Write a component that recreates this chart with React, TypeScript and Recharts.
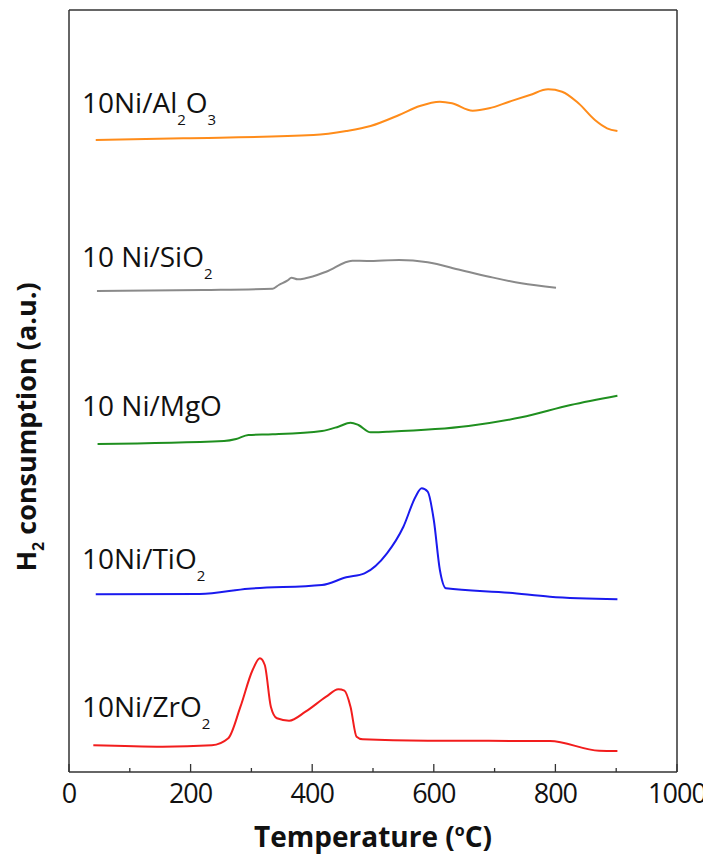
import React from "react";
import { LineChart, Line, XAxis, YAxis, Customized } from "recharts";

// Temperature (°C) and H2 consumption signal (a.u., stacked offsets) per catalyst
const alT = [44, 188, 402, 456, 496, 543, 577, 610, 630, 664, 691, 724, 758, 788, 811, 838, 865, 885, 902];
const alV = [631, 632.7, 636, 640, 645, 656, 665, 669.3, 667.7, 660.3, 662.7, 669.3, 676, 681.7, 679.3, 667.7, 651, 642.7, 640];

const siT = [46, 221, 335, 345, 359, 366, 376, 389, 423, 466, 490, 543, 590, 644, 691, 744, 801];
const siV = [480, 481, 482.3, 486, 490.3, 493.3, 491.7, 492.7, 499.3, 510.3, 510, 511, 508.7, 501, 494.3, 487.7, 483.3];

const mgT = [47, 255, 275, 295, 335, 416, 443, 463, 476, 496, 523, 657, 744, 825, 902];
const mgV = [327, 330, 332, 336, 336.7, 340, 344.3, 348.3, 346, 338.7, 339.3, 345, 353.7, 366, 375.3];

const tiT = [44, 215, 295, 416, 456, 486, 523, 550, 570, 580, 590, 600, 610, 620, 724, 791, 902];
const tiV = [176.7, 177, 182.3, 186, 193.7, 197.7, 217.7, 244.3, 274.3, 282.7, 279.3, 251, 201, 182.7, 178.3, 174.3, 171.7];

const zrT = [40, 154, 235, 262, 282, 302, 314, 322, 332, 342, 362, 389, 423, 443, 453, 463, 473, 483, 590, 791, 872, 902];
const zrV = [25.7, 24.3, 25.7, 32.7, 64.3, 101, 112.7, 106, 64.3, 52.7, 50.3, 59.3, 74.3, 81.7, 80.3, 64.3, 34.3, 31.7, 30.3, 30, 20.3, 20];

const xTicks = [0, 100, 200, 300, 400, 500, 600, 700, 800, 900, 1000];

const zip = (t: number[], v: number[]) => t.map((x, i) => ({ t: x, v: v[i] }));

const series = [
  { name: "Al2O3", data: zip(alT, alV), color: "#ff8c1a" },
  { name: "SiO2", data: zip(siT, siV), color: "#8a8a8a" },
  { name: "MgO", data: zip(mgT, mgV), color: "#1f8f1f" },
  { name: "TiO2", data: zip(tiT, tiV), color: "#1a1aee" },
  { name: "ZrO2", data: zip(zrT, zrV), color: "#f21d1d" },
];

const FONT = "'Open Sans', 'DejaVu Sans', sans-serif";
const AXIS = "#333";

const XTick = (props: any) => {
  const { x, y, payload } = props;
  const major = payload.value % 200 === 0;
  return (
    <g>
      <line x1={x} x2={x} y1={y} y2={y - (major ? 8 : 4)} stroke={AXIS} strokeWidth={1.3} />
      {major && (
        <text x={x} y={y + 31} textAnchor="middle" fontFamily={FONT} fontSize={27} letterSpacing={-1} fill="#111">
          {payload.value}
        </text>
      )}
    </g>
  );
};

const Labels = () => {
  const lab = (y: number, parts: [string, boolean][]) => (
    <text x={74} y={y} fontFamily={FONT} fontSize={28} fill="#111">
      {parts.map(([s, sub], i) =>
        sub ? (
          <tspan key={i} fontSize={15} dy={12}>{s}</tspan>
        ) : (
          <tspan key={i} dy={i > 0 && parts[i - 1][1] ? -12 : 0}>{s}</tspan>
        )
      )}
    </text>
  );
  return (
    <g>
      {lab(104.5, [["10Ni/Al", false], ["2", true], ["O", false], ["3", true]])}
      {lab(259, [["10 Ni/SiO", false], ["2", true]])}
      {lab(408, [["10 Ni/MgO", false]])}
      {lab(561, [["10Ni/TiO", false], ["2", true]])}
      {lab(709, [["10Ni/ZrO", false], ["2", true]])}
      <text x={365} y={839} textAnchor="middle" fontFamily={FONT} fontSize={28} fontWeight="bold" fill="#111">
        Temperature (<tspan fontSize={16} dy={-11}>o</tspan>
        <tspan dy={11}>C)</tspan>
      </text>
      <text
        transform="translate(28,419) rotate(-90)"
        textAnchor="middle"
        fontFamily={FONT}
        fontSize={27}
        fontWeight="bold"
        fill="#111"
      >
        H<tspan fontSize={16} dy={8}>2</tspan>
        <tspan dy={-8}> consumption (a.u.)</tspan>
      </text>
    </g>
  );
};

export default function App() {
  return (
    <div style={{ width: 703, height: 846 }}>
      <LineChart width={703} height={846} margin={{ top: 1, right: 33, bottom: 81, left: 60 }}>
        <XAxis
          type="number"
          dataKey="t"
          domain={[0, 1000]}
          ticks={xTicks}
          allowDataOverflow
          height={1}
          tickSize={0}
          tickMargin={0}
          tickLine={false}
          tick={<XTick />}
          axisLine={{ stroke: AXIS, strokeWidth: 1.5 }}
          interval={0}
        />
        <XAxis
          xAxisId="top"
          orientation="top"
          type="number"
          domain={[0, 1000]}
          height={1}
          tick={false}
          tickLine={false}
          axisLine={{ stroke: AXIS, strokeWidth: 1.5 }}
        />
        <YAxis
          type="number"
          domain={[-1, 761]}
          width={1}
          tick={false}
          tickLine={false}
          axisLine={{ stroke: AXIS, strokeWidth: 1.5 }}
        />
        <YAxis
          yAxisId="r"
          orientation="right"
          type="number"
          domain={[-1, 761]}
          width={1}
          tick={false}
          tickLine={false}
          axisLine={{ stroke: AXIS, strokeWidth: 1.5 }}
        />
        {series.map((s) => (
          <Line
            key={s.name}
            data={s.data}
            dataKey="v"
            type="monotone"
            stroke={s.color}
            strokeWidth={2}
            dot={false}
            isAnimationActive={false}
          />
        ))}
        <Customized component={Labels} />
      </LineChart>
    </div>
  );
}
